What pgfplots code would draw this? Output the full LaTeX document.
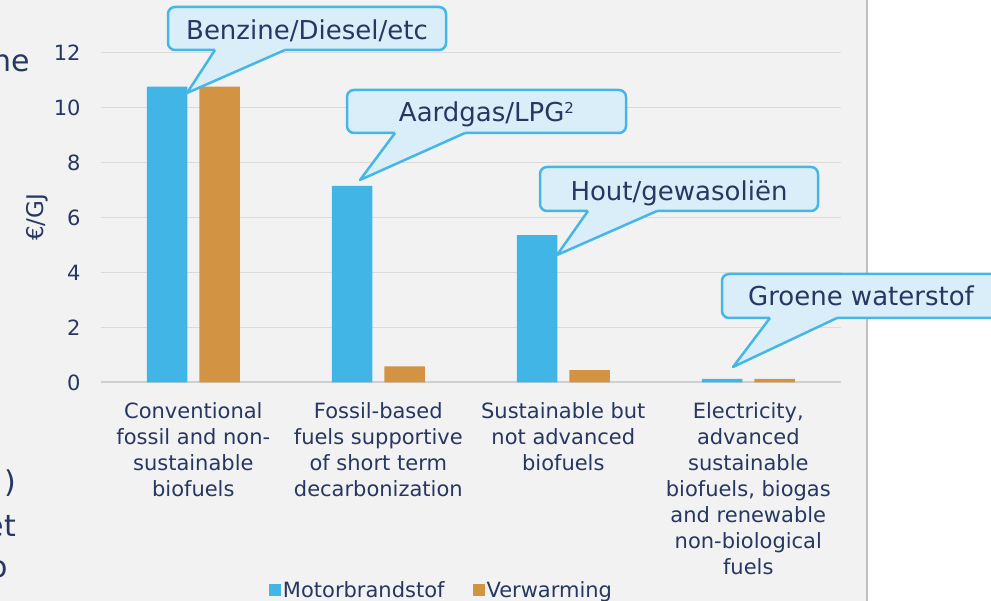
\documentclass[border=0pt]{standalone}
\usepackage{fontspec}
\setmainfont{DejaVu Sans}
\usepackage{pgfplots}
\pgfplotsset{compat=1.18}
\definecolor{bg}{HTML}{F2F2F2}
\definecolor{vline}{HTML}{C0C0C0}
\definecolor{bblue}{HTML}{41B6E6}
\definecolor{borange}{HTML}{D29443}
\definecolor{navy}{HTML}{263761}
\definecolor{gridc}{HTML}{DCDADA}
\definecolor{axisc}{HTML}{D0CECE}
\definecolor{cfill}{HTML}{DAEEF9}
\definecolor{cline}{HTML}{45B7E6}
\begin{document}
\begin{tikzpicture}[x=1pt,y=1pt]
\useasboundingbox (0,0) rectangle (991,601);
\clip (0,0) rectangle (991,601);
\fill[bg] (0,0) rectangle (866,601);
\fill[white] (866,0) rectangle (991,601);
\draw[vline, line width=2.5pt] (867,0) -- (867,601);
% fragments of slide text at the left edge
\node[anchor=base east, inner sep=0pt, text=navy, font=\fontsize{30}{36}\selectfont] at (30,529) {ne};
\node[anchor=base east, inner sep=0pt, text=navy, font=\fontsize{30}{36}\selectfont] at (16,108) {)};
\node[anchor=base east, inner sep=0pt, text=navy, font=\fontsize{30}{36}\selectfont] at (16,64) {et};
\node[anchor=base east, inner sep=0pt, text=navy, font=\fontsize{30}{36}\selectfont] at (8,23) {o};
\begin{axis}[
  at={(100.8pt,218.5pt)}, anchor=south west,
  scale only axis, width=740pt, height=330pt,
  xmin=-0.5, xmax=3.5, ymin=0, ymax=12,
  ybar=12pt, bar width=40.5pt,
  xtick={0,1,2,3},
  xticklabels={{Conventional\\fossil and non-\\sustainable\\biofuels},
               {Fossil-based\\fuels supportive\\of short term\\decarbonization},
               {Sustainable but\\not advanced\\biofuels},
               {Electricity,\\advanced\\sustainable\\biofuels, biogas\\and renewable\\non-biological\\fuels}},
  ytick={0,2,...,12},
  axis x line*=bottom, axis y line*=left,
  x axis line style={draw=axisc, line width=2pt, -},
  y axis line style={draw=none},
  major tick length=0pt,
  ymajorgrids, grid style={draw=gridc, line width=1.5pt},
  tick label style={font=\fontsize{21}{26}\selectfont, text=navy},
  yticklabel style={anchor=east, inner sep=0pt, xshift=-20pt},
  xticklabel style={align=center, anchor=north, inner sep=0pt, yshift=-20pt},
  ylabel={€/GJ},
  ylabel style={at={(axis description cs:-0.086,0.5)}, anchor=center, font=\fontsize{23}{27}\selectfont, text=navy},
  legend style={at={(axis description cs:0.4604,-0.6288)}, anchor=center, draw=none, fill=none,
     font=\fontsize{21}{26}\selectfont, text=navy,
     /tikz/every even column/.append style={column sep=26pt}},
  legend columns=2,
  /pgf/number format/assume math mode=true,
  clip=false,
]
\addplot[fill=bblue, draw=none, legend image code/.code={\fill[bblue] (-2pt,-6pt) rectangle (10pt,6pt);}]
  coordinates {(0,10.76) (1,7.15) (2,5.36) (3,0.13)};
\addplot[fill=borange, draw=none, legend image code/.code={\fill[borange] (-2pt,-6pt) rectangle (10pt,6pt);}]
  coordinates {(0,10.76) (1,0.59) (2,0.45) (3,0.13)};
\legend{Motorbrandstof, Verwarming}
\end{axis}
% callouts
\tikzset{cbox/.style={fill=cfill, draw=cline, line width=2.5pt, rounded corners=7pt},
         cptr/.style={draw=cline, line width=2.5pt, line join=round},
         ctext/.style={anchor=base, inner sep=0pt, text=navy, font=\fontsize{26}{31}\selectfont}}
% 1
\filldraw[cbox] (168,551) rectangle (446,594);
\fill[cfill] (215,553) -- (215,551) -- (187,508) -- (285,551) -- (285,553) -- cycle;
\draw[cptr] (215,551) -- (187,508) -- (285,551);
\node[ctext] at (307,561) {Benzine/Diesel/etc};
% 2
\filldraw[cbox] (347,468) rectangle (626,511);
\fill[cfill] (395,470) -- (395,468) -- (360,421) -- (465,468) -- (465,470) -- cycle;
\draw[cptr] (395,468) -- (360,421) -- (465,468);
\node[ctext] at (486.5,479) {Aardgas/LPG\raisebox{8pt}{\fontsize{15}{15}\selectfont 2}};
% 3
\filldraw[cbox] (540,390) rectangle (818,434);
\fill[cfill] (588,392) -- (588,390) -- (557,346) -- (657,390) -- (657,392) -- cycle;
\draw[cptr] (588,390) -- (557,346) -- (657,390);
\node[ctext] at (679,400) {Hout/gewasoliën};
% 4
\filldraw[cbox] (722,283) rectangle (1000,327);
\fill[cfill] (770,285) -- (770,283) -- (733,234) -- (837,283) -- (837,285) -- cycle;
\draw[cptr] (770,283) -- (733,234) -- (837,283);
\node[ctext] at (861,295) {Groene waterstof};
\end{tikzpicture}
\end{document}
